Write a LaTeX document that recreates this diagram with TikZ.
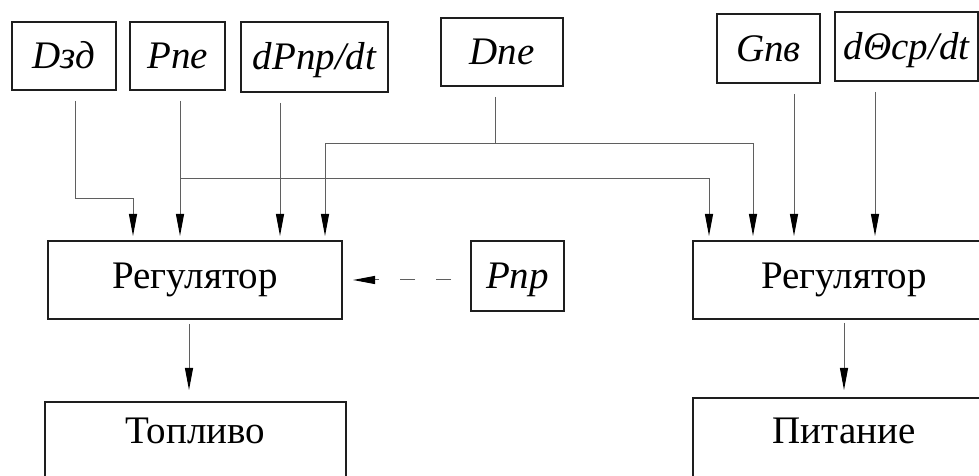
\documentclass[tikz,border=0pt]{standalone}
\usepackage{fontspec}
\setmainfont{Liberation Serif}
\usetikzlibrary{arrows.meta,calc}
\definecolor{boxline}{RGB}{30,30,30}
\definecolor{wireline}{RGB}{95,95,95}

\begin{document}
\begin{tikzpicture}[
    x=0.5pt,y=0.5pt,
    box/.style={draw=boxline,line width=1pt,inner sep=0pt,
                font=\fontsize{19.5}{22}\selectfont},
    sig/.style={box,font=\fontsize{19.5}{22}\selectfont\itshape,
                text height=12.8pt,text depth=0pt},
    arr/.style={-{Triangle[length=11pt,width=4pt,color=black]},wireline,
                line width=0.5pt,shorten <=5pt,shorten >=2pt},
    dasharr/.style={arr,dash pattern=on 7.5pt off 10.5pt,
                    shorten <=9.5pt,shorten >=5pt}
  ]
  \useasboundingbox (0,0) rectangle (979,476);
  \clip (0,0) rectangle (979,476);

  % input signals
  \node[sig,minimum width=52pt,minimum height=34pt]   (dzd)  at (64,420)    {Dзд};
  \node[sig,minimum width=47.5pt,minimum height=34pt] (pne)  at (177.5,420) {Pпе};
  \node[sig,minimum width=73.5pt,minimum height=35pt] (dpnp) at (314.5,419) {dPпр/dt};
  \node[sig,minimum width=61pt,minimum height=34pt]   (dne)  at (502,424)   {Dпе};
  \node[sig,minimum width=51.5pt,minimum height=34.5pt] (gnv) at (768.5,427.5) {Gпв};
  \node[sig,minimum width=71.5pt,minimum height=34.5pt] (dth) at (906.5,429.5) {dΘср/dt};
  \node[sig,minimum width=46.5pt,minimum height=35pt] (pnp)  at (517.5,200) {Pпр};

  % regulators and outputs
  \node[box,minimum width=147pt,minimum height=39pt] (reg1) at (195,196) {Регулятор};
  \node[box,minimum width=151pt,minimum height=39pt] (reg2) at (844,196) {Регулятор};
  \node[box,anchor=north,minimum width=150.5pt,text height=21pt,text depth=25pt]
    (fuel) at (195.5,75) {Топливо};
  \node[box,anchor=north,minimum width=151pt,text height=23pt,text depth=25pt]
    (pit) at (844,79) {Питание};

  % entry points on the regulators
  \coordinate (t1) at ($(reg1.north west)+(86,0)$);
  \coordinate (t2) at ($(reg1.north west)+(133,0)$);
  \coordinate (t3) at ($(reg1.north west)+(233,0)$);
  \coordinate (t4) at ($(reg1.north west)+(278,0)$);
  \coordinate (s1) at ($(reg2.north west)+(17,0)$);
  \coordinate (s2) at ($(reg2.north west)+(61,0)$);
  \coordinate (s3) at ($(reg2.north west)+(102,0)$);
  \coordinate (s4) at ($(reg2.north west)+(183,0)$);
  \coordinate (dn)  at ($(dne.south)+(-7,0)$);
  \coordinate (bar) at ($(t4)+(0,96)$);
  \coordinate (f1)  at ($(reg1.south)+(-6,0)$);

  \draw[arr] ($(dzd.south)+(11,0)$) |- ($(t1)+(0,41)$) -- (t1);
  \draw[arr] (pne.south -| t2) -- (t2);
  \draw[arr,shorten <=0pt] ($(t2)+(0,61)$) -| (s1);
  \draw[arr] (dpnp.south -| t3) -- (t3);
  \draw[arr] (dn) |- (bar) -- (t4);
  \draw[arr,shorten <=0pt] (dn |- bar) -| (s2);
  \draw[arr] (gnv.south -| s3) -- (s3);
  \draw[arr] (dth.south -| s4) -- (s4);

  \draw[arr,shorten <=2pt,shorten >=5.5pt] (f1) -- (f1 |- fuel.north);
  \draw[arr,shorten <=1.5pt,shorten >=3.5pt] (reg2.south) -- (pit.north);
  \draw[dasharr] (pnp.west |- reg1.east) -- (reg1.east);
\end{tikzpicture}
\end{document}
